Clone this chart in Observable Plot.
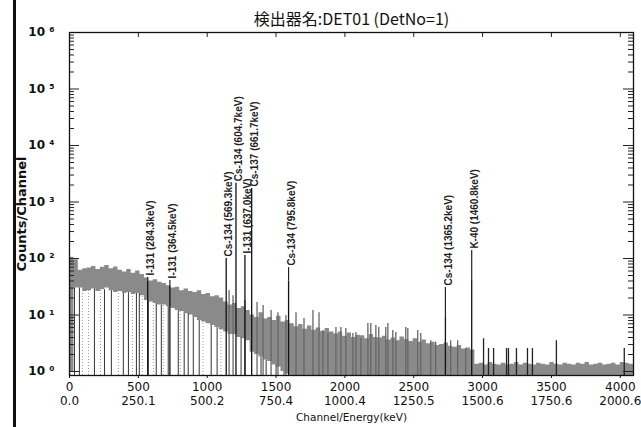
<!DOCTYPE html>
<html><head><meta charset="utf-8">
<script src="https://cdn.jsdelivr.net/npm/d3@7"></script>
<script src="https://cdn.jsdelivr.net/npm/@observablehq/plot@0.6"></script>
<style>
html,body{margin:0;padding:0;background:#fff;}
#wrap{position:relative;width:641px;height:427px;overflow:hidden;background:#fff;}
#wrap svg{position:absolute;left:0;top:0;}
#edge{position:absolute;left:13px;top:0;width:3px;height:427px;background:#111;}
</style></head><body><div id="wrap"></div>
<script>
// ---- text ----
const title = "検出器名:DET01 (DetNo=1)";
const yTitle = "Counts/Channel";
const xTitle = "Channel/Energy(keV)";

// ---- axis ticks ----
const chTicks = [0, 500, 1000, 1500, 2000, 2500, 3000, 3500, 4000];
const chLabels = ["0", "500", "1000", "1500", "2000", "2500", "3000", "3500", "4000"];
const energyLabels = ["0.0", "250.1", "500.2", "750.4", "1000.4", "1250.5", "1500.6", "1750.6", "2000.6"];
const yExp = [0, 1, 2, 3, 4, 5, 6];
const yLabels = ["10 \u2070", "10 \u00b9", "10 \u00b2", "10 \u00b3", "10 \u2074", "10 \u2075", "10 \u2076"];
const channelMax = 4096;
const floorCount = 0.85;

// ---- spectrum, 32-channel bins: top and bottom of the dense band ----
const binWidth = 32;
const bandHi = [
  105, 95, 62, 66,
  68, 72, 64, 70, 75, 66, 71,
  62, 58, 64, 55, 60, 52,
  45, 40, 42, 38, 36,
  33, 30, 31, 27, 29, 26,
  25, 27, 23, 24, 21, 22, 20,
  17, 15, 16, 13, 14, 12,
  10, 9, 11, 8.5, 9, 8, 9.5, 7.5, 8, 7,
  6.2, 6.8, 5.6, 6.4, 5.4, 5.9, 5.1, 5.8, 5.0,
  4.6, 5.0, 4.2, 4.8, 4.0, 4.4, 4.3, 3.8, 4.5, 4.0, 3.9,
  4.2, 3.6, 3.9, 3.5, 4.1, 3.7, 3.4, 3.8, 3.3, 3.6,
  3.1, 3.3, 2.9, 3.0, 3.2, 2.8, 2.7, 2.9, 2.5, 2.6, 2.4,
  1.35, 1.4, 1.3, 1.45, 1.35, 1.3, 1.4, 1.3, 1.35, 1.45, 1.3, 1.4,
  1.35, 1.3, 1.4, 1.35, 1.3, 1.45, 1.35, 1.3, 1.4, 1.35, 1.3, 1.4,
  1.35, 1.45, 1.3, 1.35, 1.4, 1.3, 1.35, 1.4, 1.3, 1.45, 1.4, 1.35
];
// bins after these reach down to the floor
const bandLo = [
  1, 30, 30, 26,
  27, 29, 26, 28, 30, 27, 25,
  26, 24, 25, 23, 24, 22,
  18, 17, 16, 15, 15,
  14, 13, 12, 11.5, 10.5, 10,
  9, 8, 7.5, 7, 6.5, 6, 5.5,
  5, 4.5, 4.5, 4, 3.8, 3.5,
  2.2, 2.0, 1.8, 1.6, 1.5, 1.3, 1.2, 1.0, 0.9, 0.85
];

// channels where the trace drops to zero (dark lines)
const dropCh = [36, 72, 181, 254, 304, 391, 428, 486, 507, 572, 630, 667, 717, 790, 833, 862, 899, 942, 1029, 1072, 1246, 1391, 1428, 1500, 1558];
// channels with faint dotted drops
const faintCh = [7, 94, 138, 225, 355, 457, 529, 609, 681, 804, 970, 1100];

// narrow single-channel spikes
const spikeCh = [1159,1188,1275,1362,1406,1464,1514,1572,1645,1703,1768,1812,1841,1877,1935,1971,2007,2058,2080,2116,2167,2188,2225,2246,2297,2312,2348,2370,2442,2457,2529,2551,2623,2659,2768,2819,2877,3007,3043,3080,3174,3188,3246,3326,3362,3536,4029];
const spikeCount = [27,22,18,16.6,14.7,12,11,9.8,11,8.7,12,11,5.3,4.7,6,6,5.8,4.7,4.9,3.8,7.1,7.1,6.5,6,6,7.1,5.3,4.9,6,5.8,5.3,4.7,3.5,3.3,3.5,3.5,2.55,3.8,2.55,2.55,2.55,2.55,2.55,2.55,2.55,3.5,2.55];

// identified peaks
const peakLabel = ["I-131 (284.3keV)", "I-131 (364.5keV)", "Cs-134 (569.3keV)", "Cs-134 (604.7keV)", "I-131 (637.0keV)", "Cs-137 (661.7keV)", "Cs-134 (795.8keV)", "Cs-134 (1365.2keV)", "K-40 (1460.8keV)"];
const peakCh = [568, 729, 1138, 1209, 1274, 1323, 1591, 2730, 2921];
const peakTop = [40, 34, 100, 2140, 113, 1740, 40, 9, 41];
const labelAt = [46, 41, 100, 2140, 113, 1740, 69, 30.7, 138];

// ---- build tables ----
const bins = bandHi.map((hi, i) => ({c0: i * binWidth, hi, lo: i < bandLo.length ? bandLo[i] : floorCount}));
const last = bins[bins.length - 1];
const bandPts = bins.concat([{c0: bins.length * binWidth, hi: last.hi, lo: last.lo}]);
const loAt = ch => bins[Math.min(bins.length - 1, Math.floor(ch / binWidth))].lo;
const drops = dropCh.map(c => ({c, top: loAt(c)}));
const faints = faintCh.map(c => ({c, top: loAt(c)}));
const spikes = spikeCh.map((c, i) => ({c, v: spikeCount[i]}));
const peaks = peakCh.map((c, i) => ({c, top: peakTop[i], lab: labelAt[i], text: peakLabel[i]}));
const leaders = peaks.filter(p => p.lab > p.top);
const major = yExp.map(e => 10 ** e);
const minor = [];
for (const e of yExp.slice(0, -1)) for (let m = 2; m <= 9; m++) minor.push(m * 10 ** e);

const pxToCh = 1 / 0.1377; // tick length helper (channels per pixel)
const topTick = 10 ** (6 - 5 / 56.5);

const plot = Plot.plot({
  width: 641, height: 427,
  marginLeft: 69, marginRight: 8, marginTop: 32, marginBottom: 52,
  x: {domain: [0, channelMax]},
  y: {type: "log", domain: [floorCount, 1e6]},
  style: {fontFamily: "DejaVu Sans", background: "transparent", color: "#111"},
  marks: [
    Plot.areaY(bandPts, {x: "c0", y1: "lo", y2: "hi", curve: "step-after", fill: "#8a8a8a"}),
    Plot.ruleX(faints, {x: "c", y1: floorCount, y2: "top", stroke: "#9a9a9a", strokeWidth: 1, strokeDasharray: "1,2"}),
    Plot.ruleX(drops, {x: "c", y1: floorCount, y2: "top", stroke: "#333", strokeWidth: 1}),
    Plot.ruleX(spikes, {x: "c", y1: floorCount, y2: "v", stroke: d => d.c > 2950 ? "#222" : "#666", strokeWidth: 1.3}),
    Plot.ruleX(peaks, {x: "c", y1: floorCount, y2: "top", stroke: "#111", strokeWidth: 1.3}),
    Plot.ruleX(leaders, {x: "c", y1: "top", y2: "lab", stroke: "#222", strokeWidth: 1.2, strokeDasharray: d => d.c > 1500 ? "1.5,1.5" : null}),
    Plot.text(peaks, {x: "c", y: "lab", text: "text", rotate: -90, textAnchor: "start", lineAnchor: "middle", dx: 3, dy: -2, fontSize: 10, fontFamily: "Liberation Sans", fontWeight: "bold", fill: "#222"}),
    // inner ticks
    Plot.ruleY(minor, {x1: 0, x2: 5 * pxToCh, stroke: "#222"}),
    Plot.ruleY(major, {x1: 0, x2: 10 * pxToCh, stroke: "#222"}),
    Plot.ruleY(minor, {x1: channelMax - 5 * pxToCh, x2: channelMax, stroke: "#222"}),
    Plot.ruleY(major, {x1: channelMax - 10 * pxToCh, x2: channelMax, stroke: "#222"}),
    Plot.ruleX(chTicks, {y1: topTick, y2: 1e6, stroke: "#222"}),
    Plot.frame({stroke: "#111", strokeWidth: 1.3}),
    Plot.axisY({ticks: major, tickFormat: d => yLabels[Math.round(Math.log10(d))], tickSize: 0, tickPadding: 15, fontSize: 12, fontWeight: "bold", label: null}),
    Plot.axisX({ticks: chTicks, tickFormat: d => { const i = chTicks.indexOf(d); return chLabels[i] + "\n" + energyLabels[i]; }, tickSize: 3, tickPadding: 2, fontSize: 12, lineHeight: 1.2, label: null}),
    Plot.text([title], {frameAnchor: "top", dy: -13, lineAnchor: "middle", fontSize: 16, fontFamily: "Noto Sans CJK JP"}),
    Plot.text([yTitle], {frameAnchor: "left", dx: -48, dy: 10, rotate: -90, textAnchor: "middle", lineAnchor: "middle", fontSize: 13, fontWeight: "bold"}),
    Plot.text([xTitle], {frameAnchor: "bottom", dy: 42, lineAnchor: "middle", fontSize: 10.5})
  ]
});
const wrap = document.getElementById("wrap");
wrap.appendChild(plot);
const edge = document.createElement("div");
edge.id = "edge";
wrap.appendChild(edge);
</script>
</body></html>
